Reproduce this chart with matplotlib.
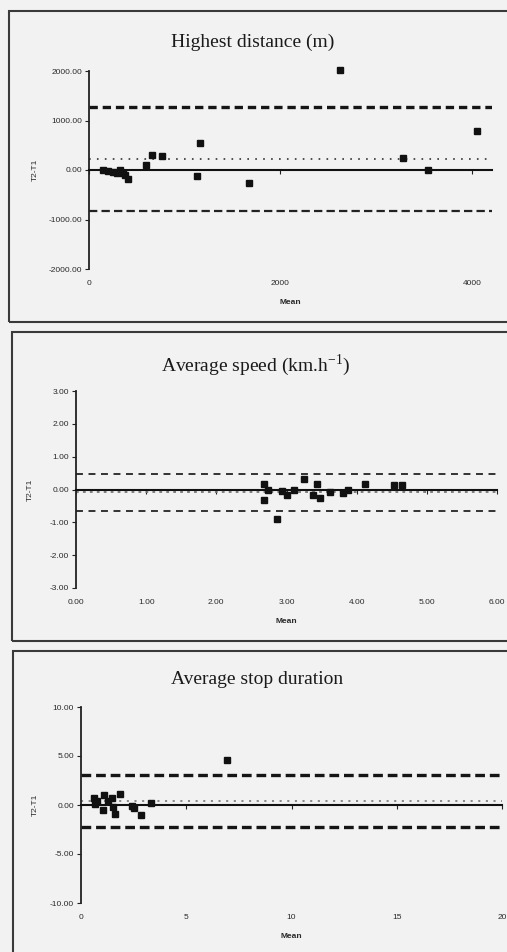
import matplotlib.pyplot as plt
from matplotlib.patches import Rectangle
from matplotlib.ticker import FormatStrFormatter

# Bland-Altman data (T2-T1 against the mean)
dist_mean = [150, 200, 250, 290, 320, 350, 380, 410, 600, 660, 760,
             1130, 1160, 1670, 2620, 3280, 3540, 4050]
dist_diff = [0, -30, -40, -60, 0, -60, -100, -190, 110, 310, 290,
             -120, 540, -270, 2030, 240, 0, 780]
dist_limits = [1280, 225, -830]  # upper LoA, bias, lower LoA

speed_mean = [2.68, 2.74, 2.68, 2.87, 2.93, 3.01, 3.10, 3.25, 3.38, 3.44,
              3.48, 3.62, 3.81, 3.88, 4.12, 4.53, 4.65]
speed_diff = [0.17, -0.03, -0.31, -0.91, -0.05, -0.18, 0.00, 0.33, -0.18, 0.17,
              -0.27, -0.08, -0.10, -0.01, 0.17, 0.15, 0.15]
speed_limits = [0.48, -0.07, -0.64]

stop_mean = [0.63, 0.68, 0.78, 1.07, 1.05, 1.30, 1.47, 1.52, 1.60, 1.83,
             2.42, 2.50, 2.86, 3.33, 6.94]
stop_diff = [0.74, 0.07, 0.40, 1.02, -0.54, 0.45, 0.68, -0.20, -0.89, 1.15,
             -0.10, -0.34, -1.02, 0.23, 4.56]
stop_limits = [3.06, 0.40, -2.21]

plt.rcParams['lines.scale_dashes'] = False
W, H = 507, 952
fig = plt.figure(figsize=(W / 100, H / 100), dpi=100, facecolor='#f2f2f2')


def px_axes(left, top, right, bottom):
    return fig.add_axes([left / W, 1 - bottom / H, (right - left) / W, (bottom - top) / H])


def panel_box(left, top, right, bottom):
    fig.patches.append(Rectangle((left / W, 1 - bottom / H), (right - left) / W,
                                 (bottom - top) / H, transform=fig.transFigure,
                                 fill=False, edgecolor='#3a3a3a', linewidth=1.5))


def bland_altman(ax, means, diffs, limits, xlim, ylim, xticks, yticks, xfmt,
                 limit_styles, bias_style, title, title_xy, ylab_x):
    ax.set_facecolor('none')
    ax.set_xlim(xlim)
    ax.set_ylim(ylim)
    for s in ['top', 'right']:
        ax.spines[s].set_visible(False)
    ax.spines['left'].set_linewidth(1.3)
    ax.spines['left'].set_color('#222')
    ax.spines['bottom'].set_position(('data', 0))
    ax.spines['bottom'].set_linewidth(1.5)
    ax.spines['bottom'].set_color('#111')
    ax.set_xticks(xticks)
    ax.set_yticks(yticks)
    ax.yaxis.set_major_formatter(FormatStrFormatter('%.2f'))
    ax.tick_params(axis='x', labelbottom=False, direction='out', length=3, color='#222')
    ax.tick_params(axis='y', direction='out', length=3, pad=2, labelsize=6,
                   labelcolor='#2a2a2a', color='#222')
    for lab in ax.get_yticklabels():
        lab.set_family('Liberation Sans')

    sec = ax.secondary_xaxis(0.0)
    sec.spines['bottom'].set_visible(False)
    sec.set_xticks(xticks)
    sec.xaxis.set_major_formatter(FormatStrFormatter(xfmt))
    sec.tick_params(length=0, pad=8, labelsize=6, labelcolor='#2a2a2a')
    for lab in sec.get_xticklabels():
        lab.set_family('Liberation Sans')

    (up_lw, up_dash, up_col), (lo_lw, lo_dash, lo_col) = limit_styles
    ax.axhline(limits[0], color=up_col, lw=up_lw, dashes=up_dash)
    ax.axhline(limits[2], color=lo_col, lw=lo_lw, dashes=lo_dash)
    ax.axhline(limits[1], color=bias_style[2], lw=bias_style[0], dashes=bias_style[1])

    ax.plot(means, diffs, 's', ms=3.8, color='#111', zorder=5, clip_on=False)

    ax.text(0.5, -0.17, 'Mean', transform=ax.transAxes, ha='center', va='center',
            fontsize=6, color='#2a2a2a', family='Liberation Sans', fontweight='bold')
    ax.set_ylabel('T2-T1', fontsize=6, color='#2a2a2a', family='Liberation Sans')
    ax.yaxis.set_label_coords(ylab_x, 0.5)
    fig.text(title_xy[0] / W, 1 - title_xy[1] / H, title, ha='center', va='center',
             fontsize=14, family='Liberation Serif', color='#1a1a1a')


panel_box(9, 11, 540, 322)
panel_box(12, 332, 540, 641)
panel_box(13, 651, 540, 990)

ax1 = px_axes(89, 71, 492, 269)
bland_altman(ax1, dist_mean, dist_diff, dist_limits, (0, 4210), (-2000, 2000),
             [0, 2000, 4000], [-2000, -1000, 0, 1000, 2000], '%d',
             [(2.4, (6, 3.5), '#151515'), (1.6, (6, 3), '#222')],
             (1.2, (1.2, 4.5), '#333'),
             'Highest distance (m)', (253, 42), -0.125)

ax2 = px_axes(76, 391, 497, 588)
bland_altman(ax2, speed_mean, speed_diff, speed_limits, (0, 6), (-3, 3),
             [0, 1, 2, 3, 4, 5, 6], [-3, -2, -1, 0, 1, 2, 3], '%.2f',
             [(1.4, (5, 4), '#333'), (1.4, (5, 4), '#333')],
             (1.3, (2, 3), '#777'),
             'Average speed (km.h$^{\\mathregular{-1}}$)', (256, 365), -0.1)

ax3 = px_axes(81, 707, 502, 903)
bland_altman(ax3, stop_mean, stop_diff, stop_limits, (0, 20), (-10, 10),
             [0, 5, 10, 15, 20], [-10, -5, 0, 5, 10], '%d',
             [(2.4, (7, 3.5), '#151515'), (2.4, (7, 3.5), '#151515')],
             (1.2, (1.5, 4), '#777'),
             'Average stop duration', (257, 679), -0.1)

fig.savefig('out.png', dpi=100, facecolor=fig.get_facecolor())
